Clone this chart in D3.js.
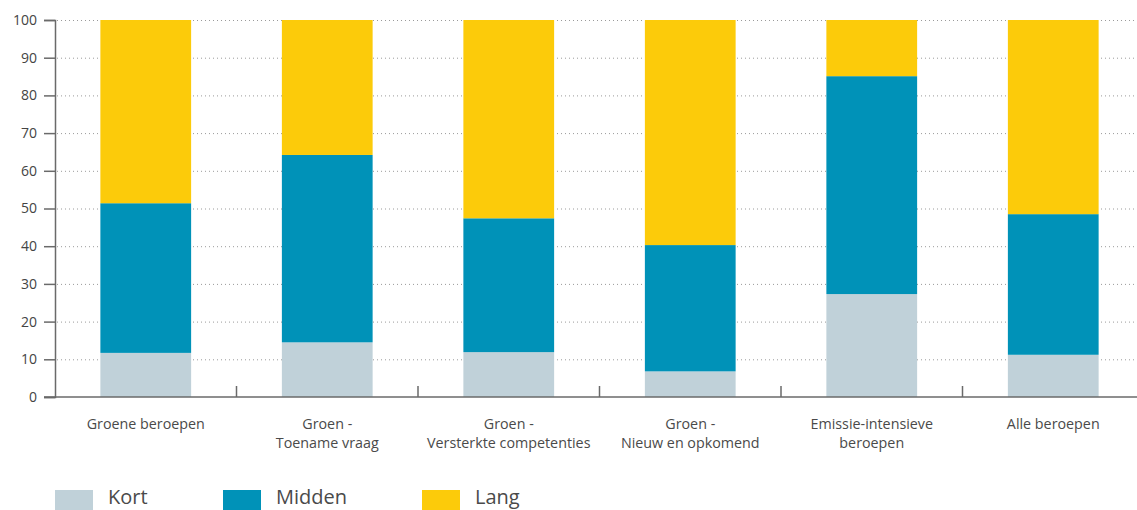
<!DOCTYPE html>
<html>
<head>
<meta charset="utf-8">
<script src="https://cdn.jsdelivr.net/npm/d3@7"></script>
<style>
  html, body { margin: 0; padding: 0; background: #fff; }
  svg { display: block; font-family: "Open Sans", "Noto Sans", sans-serif; }
</style>
</head>
<body>
<svg id="chart" width="1137" height="510"></svg>
<script>
// Beroepsgroepen (two-line labels split on "\n")
const categories = [
  "Groene beroepen",
  "Groen -\nToename vraag",
  "Groen -\nVersterkte competenties",
  "Groen -\nNieuw en opkomend",
  "Emissie-intensieve\nberoepen",
  "Alle beroepen"
];
const seriesNames = ["Kort", "Midden", "Lang"];
const kort   = [11.7, 14.5, 11.9, 6.8, 27.3, 11.2];
const midden = [39.7, 49.7, 35.5, 33.5, 57.8, 37.3];
const lang   = [48.6, 35.8, 52.6, 59.7, 14.9, 51.5];
const yTicks = [0, 10, 20, 30, 40, 50, 60, 70, 80, 90, 100];
const colors = ["#c0d1d9", "#0092b8", "#fccb0a"];

const rows = categories.map((c, i) => ({ cat: c, Kort: kort[i], Midden: midden[i], Lang: lang[i] }));
const stack = d3.stack().keys(seriesNames)(rows);

const svg = d3.select("#chart");
const plotLeft = 55, plotRight = 1144, plotTop = 20, plotBottom = 397;

const x = d3.scaleBand().domain(categories).range([plotLeft, plotRight]).paddingInner(0.5).paddingOuter(0.25);
const y = d3.scaleLinear().domain([0, 100]).range([plotBottom, plotTop]);
const color = d3.scaleOrdinal().domain(seriesNames).range(colors);

// dotted gridlines
svg.append("g")
  .selectAll("line")
  .data(yTicks.filter(t => t > 0))
  .join("line")
  .attr("x1", plotLeft + 2).attr("x2", 1137)
  .attr("y1", d => y(d) + 0.5).attr("y2", d => y(d) + 0.5)
  .attr("stroke", "#9a9a9a")
  .attr("stroke-width", 1)
  .attr("stroke-dasharray", "1,3");

// stacked bars
svg.append("g")
  .selectAll("g")
  .data(stack)
  .join("g")
  .attr("fill", d => color(d.key))
  .selectAll("rect")
  .data(d => d)
  .join("rect")
  .attr("x", d => x(d.data.cat))
  .attr("width", x.bandwidth())
  .attr("y", d => y(d[1]))
  .attr("height", d => y(d[0]) - y(d[1]));

// y axis
const yAxis = svg.append("g")
  .attr("transform", `translate(${plotLeft},0)`)
  .call(d3.axisLeft(y).tickValues(yTicks).tickSize(11).tickPadding(7));
yAxis.select(".domain").attr("stroke", "#6a6a6a").attr("stroke-width", 1.5);
yAxis.selectAll(".tick line").attr("stroke", "#6a6a6a").attr("stroke-width", 1.5);
yAxis.selectAll(".tick text").attr("fill", "#444").style("font-size", "14px").style("font-family", "'Open Sans', sans-serif");

// x axis line with separators between categories
const step = x.step();
const boundaries = d3.range(1, categories.length).map(i => plotLeft + i * step);
svg.append("line")
  .attr("x1", plotLeft - 11).attr("x2", 1137)
  .attr("y1", plotBottom).attr("y2", plotBottom)
  .attr("stroke", "#6a6a6a").attr("stroke-width", 1.5);
svg.append("g")
  .selectAll("line")
  .data(boundaries)
  .join("line")
  .attr("x1", d => d).attr("x2", d => d)
  .attr("y1", plotBottom).attr("y2", plotBottom - 11)
  .attr("stroke", "#6a6a6a").attr("stroke-width", 1.5);

// category labels
svg.append("g")
  .selectAll("text")
  .data(categories)
  .join("text")
  .attr("text-anchor", "middle")
  .attr("fill", "#4a4a4a")
  .style("font-size", "14.3px")
  .attr("transform", d => `translate(${x(d) + x.bandwidth() / 2},${plotBottom + 32})`)
  .selectAll("tspan")
  .data(d => d.split("\n"))
  .join("tspan")
  .attr("x", 0)
  .attr("dy", (d, i) => i === 0 ? 0 : 18.5)
  .text(d => d);

// legend
const legendX = [55, 223, 422];
const legend = svg.append("g")
  .selectAll("g")
  .data(seriesNames)
  .join("g")
  .attr("transform", (d, i) => `translate(${legendX[i]},490)`);
legend.append("rect")
  .attr("width", 38).attr("height", 20)
  .attr("fill", d => color(d));
legend.append("text")
  .attr("x", 53).attr("y", 14)
  .attr("fill", "#4a4a4a")
  .style("font-size", "20px")
  .text(d => d);
</script>
</body>
</html>
